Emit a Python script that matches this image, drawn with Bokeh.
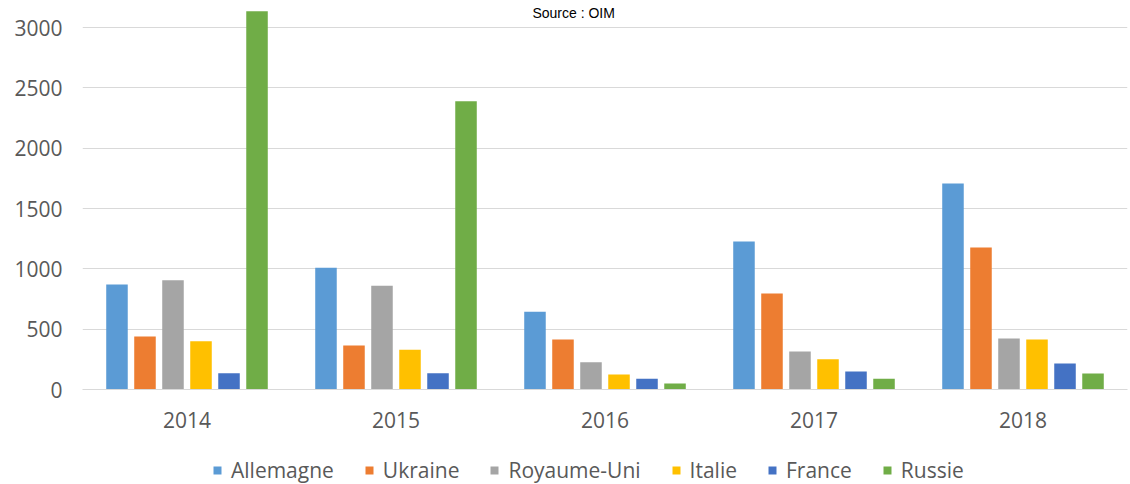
from bokeh.plotting import figure
from bokeh.models import FactorRange, Range1d, Legend, LegendItem, Label, ColumnDataSource
from bokeh.layouts import column
from bokeh.transform import dodge
from bokeh.embed import file_html
from bokeh.resources import INLINE

years = ["2014", "2015", "2016", "2017", "2018"]
series = ["Allemagne", "Ukraine", "Royaume-Uni", "Italie", "France", "Russie"]
allemagne = [870, 1010, 645, 1227, 1708]
ukraine = [440, 365, 415, 795, 1177]
royaume_uni = [905, 860, 225, 315, 423]
italie = [400, 330, 125, 250, 415]
france = [135, 135, 90, 150, 215]
russie = [3135, 2390, 50, 90, 133]
colors = ["#5B9BD5", "#ED7D31", "#A5A5A5", "#FFC000", "#4472C4", "#70AD47"]
yticks = [0, 500, 1000, 1500, 2000, 2500, 3000]

data = dict(years=years, Allemagne=allemagne, Ukraine=ukraine, RU=royaume_uni,
            Italie=italie, France=france, Russie=russie)
src = ColumnDataSource(data)
cols = ["Allemagne", "Ukraine", "RU", "Italie", "France", "Russie"]

p = figure(width=1130, height=440, x_range=FactorRange(*years), y_range=Range1d(0, 3225),
           output_backend="svg", toolbar_location=None,
           min_border_left=82, min_border_right=3, min_border_top=0, min_border_bottom=51)

step = 0.134
width = 0.103
for i, (c, col) in enumerate(zip(cols, colors)):
    off = (i - 2.5) * step
    p.vbar(x=dodge("years", off, range=p.x_range), top=c, width=width, source=src,
           fill_color=col, line_color=None)

p.outline_line_color = None
p.background_fill_color = "white"
p.xgrid.grid_line_color = None
p.ygrid.grid_line_color = "#D9D9D9"
p.ygrid.grid_line_width = 1
p.yaxis.ticker = yticks
p.yaxis.axis_line_color = None
p.yaxis.major_tick_line_color = None
p.yaxis.minor_tick_line_color = None
p.yaxis.major_label_text_font = "Open Sans"
p.yaxis.major_label_text_font_size = "21px"
p.yaxis.major_label_text_color = "#595959"
p.yaxis.major_label_standoff = 14
p.xaxis.axis_line_color = "#D9D9D9"
p.xaxis.major_tick_line_color = None
p.xaxis.minor_tick_line_color = None
p.xaxis.major_label_text_font = "Open Sans"
p.xaxis.major_label_text_font_size = "21px"
p.xaxis.major_label_text_color = "#595959"
p.xaxis.major_label_standoff = 16
p.x_range.range_padding = 0
p.x_range.group_padding = 0

title = Label(x=2.35, y=3120, x_units="data", y_units="data", text="Source : OIM",
              text_font="Liberation Sans", text_font_size="14px", text_align="center",
              text_baseline="alphabetic", text_color="#000000")
p.add_layout(title)

# legend strip
p2 = figure(width=1130, height=44, x_range=Range1d(0, 1), y_range=Range1d(0, 1),
            output_backend="svg", toolbar_location=None, x_axis_type=None, y_axis_type=None,
            min_border_left=0, min_border_right=0, min_border_top=0, min_border_bottom=0)
p2.outline_line_color = None
p2.xgrid.visible = False
p2.ygrid.visible = False
items = []
for name, col in zip(series, colors):
    # zero-height placeholder so the legend swatch is drawn
    r = p2.vbar(x=[0.5], top=[0], bottom=[0], width=0.1, fill_color=col, line_color=None)
    items.append(LegendItem(label=name, renderers=[r]))
legend = Legend(items=items, orientation="horizontal", location=(130, 0),
                label_text_font="Open Sans", label_text_font_size="21px",
                label_text_color="#595959", glyph_width=10, glyph_height=10,
                spacing=30, label_standoff=9, border_line_color=None,
                background_fill_alpha=0, padding=0, margin=0)
p2.add_layout(legend, "center")

layout = column(p, p2, spacing=0)
open("out.html", "w").write(file_html(layout, INLINE))
